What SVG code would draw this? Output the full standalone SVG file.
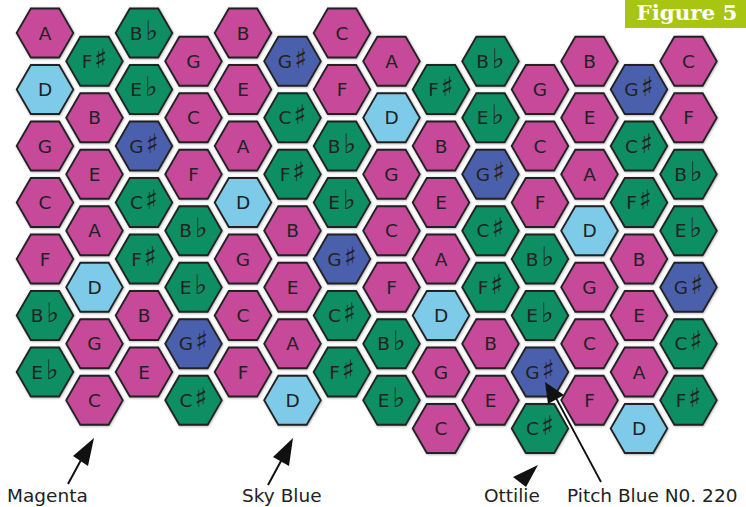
<svg xmlns="http://www.w3.org/2000/svg" xmlns:xlink="http://www.w3.org/1999/xlink" width="746" height="507" viewBox="0 0 746 507">
<style>
.hx use{stroke:#222;stroke-width:1.8;filter:url(#sh)}
.m use{fill:#c6489a}
.g use{fill:#0b8e64}
.b use{fill:#4b60ad}
.s use{fill:#7dcbe9}
.hx text{font-family:"DejaVu Sans",sans-serif;font-size:18.5px;fill:#222;text-anchor:middle}
.hx tspan{font-size:27px}
.lbl{font-family:"DejaVu Sans",sans-serif;font-size:18.5px;fill:#222}
</style>
<defs>
<filter id="sh" x="-20%" y="-20%" width="140%" height="140%"><feDropShadow dx="0.6" dy="0.6" stdDeviation="1.3" flood-color="#000" flood-opacity="0.35"/></filter>
<polygon id="hex" points="-28.3,0 -14.15,-24.5 14.15,-24.5 28.3,0 14.15,24.5 -14.15,24.5"/>
</defs>
<rect width="746" height="507" fill="#fff"/>
<g id="nodes">
<!-- col 0 x=45 -->
<g id="c0r0" class="hx m"><use href="#hex" x="45" y="33"/><text x="45" y="39.5">A</text></g>
<g id="c0r1" class="hx s"><use href="#hex" x="45" y="89.5"/><text x="45" y="96">D</text></g>
<g id="c0r2" class="hx m"><use href="#hex" x="45" y="146"/><text x="45" y="152.5">G</text></g>
<g id="c0r3" class="hx m"><use href="#hex" x="45" y="202.5"/><text x="45" y="209">C</text></g>
<g id="c0r4" class="hx m"><use href="#hex" x="45" y="259"/><text x="45" y="265.5">F</text></g>
<g id="c0r5" class="hx g"><use href="#hex" x="45" y="315.5"/><text x="45" y="322">B<tspan dx="3">♭</tspan></text></g>
<g id="c0r6" class="hx g"><use href="#hex" x="45" y="372"/><text x="45" y="378.5">E<tspan dx="3">♭</tspan></text></g>
<!-- col 1 x=94.5 -->
<g id="c1r0" class="hx g"><use href="#hex" x="94.5" y="61.25"/><text x="94.5" y="67.75">F<tspan dx="2">♯</tspan></text></g>
<g id="c1r1" class="hx m"><use href="#hex" x="94.5" y="117.75"/><text x="94.5" y="124.25">B</text></g>
<g id="c1r2" class="hx m"><use href="#hex" x="94.5" y="174.25"/><text x="94.5" y="180.75">E</text></g>
<g id="c1r3" class="hx m"><use href="#hex" x="94.5" y="230.75"/><text x="94.5" y="237.25">A</text></g>
<g id="c1r4" class="hx s"><use href="#hex" x="94.5" y="287.25"/><text x="94.5" y="293.75">D</text></g>
<g id="c1r5" class="hx m"><use href="#hex" x="94.5" y="343.75"/><text x="94.5" y="350.25">G</text></g>
<g id="c1r6" class="hx m"><use href="#hex" x="94.5" y="400.25"/><text x="94.5" y="406.75">C</text></g>
<!-- col 2 x=144 -->
<g id="c2r0" class="hx g"><use href="#hex" x="144" y="33"/><text x="144" y="39.5">B<tspan dx="3">♭</tspan></text></g>
<g id="c2r1" class="hx g"><use href="#hex" x="144" y="89.5"/><text x="144" y="96">E<tspan dx="3">♭</tspan></text></g>
<g id="c2r2" class="hx b"><use href="#hex" x="144" y="146"/><text x="144" y="152.5">G<tspan dx="2">♯</tspan></text></g>
<g id="c2r3" class="hx g"><use href="#hex" x="144" y="202.5"/><text x="144" y="209">C<tspan dx="2">♯</tspan></text></g>
<g id="c2r4" class="hx g"><use href="#hex" x="144" y="259"/><text x="144" y="265.5">F<tspan dx="2">♯</tspan></text></g>
<g id="c2r5" class="hx m"><use href="#hex" x="144" y="315.5"/><text x="144" y="322">B</text></g>
<g id="c2r6" class="hx m"><use href="#hex" x="144" y="372"/><text x="144" y="378.5">E</text></g>
<!-- col 3 x=193.5 -->
<g id="c3r0" class="hx m"><use href="#hex" x="193.5" y="61.25"/><text x="193.5" y="67.75">G</text></g>
<g id="c3r1" class="hx m"><use href="#hex" x="193.5" y="117.75"/><text x="193.5" y="124.25">C</text></g>
<g id="c3r2" class="hx m"><use href="#hex" x="193.5" y="174.25"/><text x="193.5" y="180.75">F</text></g>
<g id="c3r3" class="hx g"><use href="#hex" x="193.5" y="230.75"/><text x="193.5" y="237.25">B<tspan dx="3">♭</tspan></text></g>
<g id="c3r4" class="hx g"><use href="#hex" x="193.5" y="287.25"/><text x="193.5" y="293.75">E<tspan dx="3">♭</tspan></text></g>
<g id="c3r5" class="hx b"><use href="#hex" x="193.5" y="343.75"/><text x="193.5" y="350.25">G<tspan dx="2">♯</tspan></text></g>
<g id="c3r6" class="hx g"><use href="#hex" x="193.5" y="400.25"/><text x="193.5" y="406.75">C<tspan dx="2">♯</tspan></text></g>
<!-- col 4 x=243 -->
<g id="c4r0" class="hx m"><use href="#hex" x="243" y="33"/><text x="243" y="39.5">B</text></g>
<g id="c4r1" class="hx m"><use href="#hex" x="243" y="89.5"/><text x="243" y="96">E</text></g>
<g id="c4r2" class="hx m"><use href="#hex" x="243" y="146"/><text x="243" y="152.5">A</text></g>
<g id="c4r3" class="hx s"><use href="#hex" x="243" y="202.5"/><text x="243" y="209">D</text></g>
<g id="c4r4" class="hx m"><use href="#hex" x="243" y="259"/><text x="243" y="265.5">G</text></g>
<g id="c4r5" class="hx m"><use href="#hex" x="243" y="315.5"/><text x="243" y="322">C</text></g>
<g id="c4r6" class="hx m"><use href="#hex" x="243" y="372"/><text x="243" y="378.5">F</text></g>
<!-- col 5 x=292.5 -->
<g id="c5r0" class="hx b"><use href="#hex" x="292.5" y="61.25"/><text x="292.5" y="67.75">G<tspan dx="2">♯</tspan></text></g>
<g id="c5r1" class="hx g"><use href="#hex" x="292.5" y="117.75"/><text x="292.5" y="124.25">C<tspan dx="2">♯</tspan></text></g>
<g id="c5r2" class="hx g"><use href="#hex" x="292.5" y="174.25"/><text x="292.5" y="180.75">F<tspan dx="2">♯</tspan></text></g>
<g id="c5r3" class="hx m"><use href="#hex" x="292.5" y="230.75"/><text x="292.5" y="237.25">B</text></g>
<g id="c5r4" class="hx m"><use href="#hex" x="292.5" y="287.25"/><text x="292.5" y="293.75">E</text></g>
<g id="c5r5" class="hx m"><use href="#hex" x="292.5" y="343.75"/><text x="292.5" y="350.25">A</text></g>
<g id="c5r6" class="hx s"><use href="#hex" x="292.5" y="400.25"/><text x="292.5" y="406.75">D</text></g>
<!-- col 6 x=342 -->
<g id="c6r0" class="hx m"><use href="#hex" x="342" y="33"/><text x="342" y="39.5">C</text></g>
<g id="c6r1" class="hx m"><use href="#hex" x="342" y="89.5"/><text x="342" y="96">F</text></g>
<g id="c6r2" class="hx g"><use href="#hex" x="342" y="146"/><text x="342" y="152.5">B<tspan dx="3">♭</tspan></text></g>
<g id="c6r3" class="hx g"><use href="#hex" x="342" y="202.5"/><text x="342" y="209">E<tspan dx="3">♭</tspan></text></g>
<g id="c6r4" class="hx b"><use href="#hex" x="342" y="259"/><text x="342" y="265.5">G<tspan dx="2">♯</tspan></text></g>
<g id="c6r5" class="hx g"><use href="#hex" x="342" y="315.5"/><text x="342" y="322">C<tspan dx="2">♯</tspan></text></g>
<g id="c6r6" class="hx g"><use href="#hex" x="342" y="372"/><text x="342" y="378.5">F<tspan dx="2">♯</tspan></text></g>
<!-- col 7 x=391.5 -->
<g id="c7r0" class="hx m"><use href="#hex" x="391.5" y="61.25"/><text x="391.5" y="67.75">A</text></g>
<g id="c7r1" class="hx s"><use href="#hex" x="391.5" y="117.75"/><text x="391.5" y="124.25">D</text></g>
<g id="c7r2" class="hx m"><use href="#hex" x="391.5" y="174.25"/><text x="391.5" y="180.75">G</text></g>
<g id="c7r3" class="hx m"><use href="#hex" x="391.5" y="230.75"/><text x="391.5" y="237.25">C</text></g>
<g id="c7r4" class="hx m"><use href="#hex" x="391.5" y="287.25"/><text x="391.5" y="293.75">F</text></g>
<g id="c7r5" class="hx g"><use href="#hex" x="391.5" y="343.75"/><text x="391.5" y="350.25">B<tspan dx="3">♭</tspan></text></g>
<g id="c7r6" class="hx g"><use href="#hex" x="391.5" y="400.25"/><text x="391.5" y="406.75">E<tspan dx="3">♭</tspan></text></g>
<!-- col 8 x=441 -->
<g id="c8r0" class="hx g"><use href="#hex" x="441" y="89.5"/><text x="441" y="96">F<tspan dx="2">♯</tspan></text></g>
<g id="c8r1" class="hx m"><use href="#hex" x="441" y="146"/><text x="441" y="152.5">B</text></g>
<g id="c8r2" class="hx m"><use href="#hex" x="441" y="202.5"/><text x="441" y="209">E</text></g>
<g id="c8r3" class="hx m"><use href="#hex" x="441" y="259"/><text x="441" y="265.5">A</text></g>
<g id="c8r4" class="hx s"><use href="#hex" x="441" y="315.5"/><text x="441" y="322">D</text></g>
<g id="c8r5" class="hx m"><use href="#hex" x="441" y="372"/><text x="441" y="378.5">G</text></g>
<g id="c8r6" class="hx m"><use href="#hex" x="441" y="428.5"/><text x="441" y="435">C</text></g>
<!-- col 9 x=490.5 -->
<g id="c9r0" class="hx g"><use href="#hex" x="490.5" y="61.25"/><text x="490.5" y="67.75">B<tspan dx="3">♭</tspan></text></g>
<g id="c9r1" class="hx g"><use href="#hex" x="490.5" y="117.75"/><text x="490.5" y="124.25">E<tspan dx="3">♭</tspan></text></g>
<g id="c9r2" class="hx b"><use href="#hex" x="490.5" y="174.25"/><text x="490.5" y="180.75">G<tspan dx="2">♯</tspan></text></g>
<g id="c9r3" class="hx g"><use href="#hex" x="490.5" y="230.75"/><text x="490.5" y="237.25">C<tspan dx="2">♯</tspan></text></g>
<g id="c9r4" class="hx g"><use href="#hex" x="490.5" y="287.25"/><text x="490.5" y="293.75">F<tspan dx="2">♯</tspan></text></g>
<g id="c9r5" class="hx m"><use href="#hex" x="490.5" y="343.75"/><text x="490.5" y="350.25">B</text></g>
<g id="c9r6" class="hx m"><use href="#hex" x="490.5" y="400.25"/><text x="490.5" y="406.75">E</text></g>
<!-- col 10 x=540 -->
<g id="c10r0" class="hx m"><use href="#hex" x="540" y="89.5"/><text x="540" y="96">G</text></g>
<g id="c10r1" class="hx m"><use href="#hex" x="540" y="146"/><text x="540" y="152.5">C</text></g>
<g id="c10r2" class="hx m"><use href="#hex" x="540" y="202.5"/><text x="540" y="209">F</text></g>
<g id="c10r3" class="hx g"><use href="#hex" x="540" y="259"/><text x="540" y="265.5">B<tspan dx="3">♭</tspan></text></g>
<g id="c10r4" class="hx g"><use href="#hex" x="540" y="315.5"/><text x="540" y="322">E<tspan dx="3">♭</tspan></text></g>
<g id="c10r5" class="hx b"><use href="#hex" x="540" y="372"/><text x="540" y="378.5">G<tspan dx="2">♯</tspan></text></g>
<g id="c10r6" class="hx g"><use href="#hex" x="540" y="428.5"/><text x="540" y="435">C<tspan dx="2">♯</tspan></text></g>
<!-- col 11 x=589.5 -->
<g id="c11r0" class="hx m"><use href="#hex" x="589.5" y="61.25"/><text x="589.5" y="67.75">B</text></g>
<g id="c11r1" class="hx m"><use href="#hex" x="589.5" y="117.75"/><text x="589.5" y="124.25">E</text></g>
<g id="c11r2" class="hx m"><use href="#hex" x="589.5" y="174.25"/><text x="589.5" y="180.75">A</text></g>
<g id="c11r3" class="hx s"><use href="#hex" x="589.5" y="230.75"/><text x="589.5" y="237.25">D</text></g>
<g id="c11r4" class="hx m"><use href="#hex" x="589.5" y="287.25"/><text x="589.5" y="293.75">G</text></g>
<g id="c11r5" class="hx m"><use href="#hex" x="589.5" y="343.75"/><text x="589.5" y="350.25">C</text></g>
<g id="c11r6" class="hx m"><use href="#hex" x="589.5" y="400.25"/><text x="589.5" y="406.75">F</text></g>
<!-- col 12 x=639 -->
<g id="c12r0" class="hx b"><use href="#hex" x="639" y="89.5"/><text x="639" y="96">G<tspan dx="2">♯</tspan></text></g>
<g id="c12r1" class="hx g"><use href="#hex" x="639" y="146"/><text x="639" y="152.5">C<tspan dx="2">♯</tspan></text></g>
<g id="c12r2" class="hx g"><use href="#hex" x="639" y="202.5"/><text x="639" y="209">F<tspan dx="2">♯</tspan></text></g>
<g id="c12r3" class="hx m"><use href="#hex" x="639" y="259"/><text x="639" y="265.5">B</text></g>
<g id="c12r4" class="hx m"><use href="#hex" x="639" y="315.5"/><text x="639" y="322">E</text></g>
<g id="c12r5" class="hx m"><use href="#hex" x="639" y="372"/><text x="639" y="378.5">A</text></g>
<g id="c12r6" class="hx s"><use href="#hex" x="639" y="428.5"/><text x="639" y="435">D</text></g>
<!-- col 13 x=688.5 -->
<g id="c13r0" class="hx m"><use href="#hex" x="688.5" y="61.25"/><text x="688.5" y="67.75">C</text></g>
<g id="c13r1" class="hx m"><use href="#hex" x="688.5" y="117.75"/><text x="688.5" y="124.25">F</text></g>
<g id="c13r2" class="hx g"><use href="#hex" x="688.5" y="174.25"/><text x="688.5" y="180.75">B<tspan dx="3">♭</tspan></text></g>
<g id="c13r3" class="hx g"><use href="#hex" x="688.5" y="230.75"/><text x="688.5" y="237.25">E<tspan dx="3">♭</tspan></text></g>
<g id="c13r4" class="hx b"><use href="#hex" x="688.5" y="287.25"/><text x="688.5" y="293.75">G<tspan dx="2">♯</tspan></text></g>
<g id="c13r5" class="hx g"><use href="#hex" x="688.5" y="343.75"/><text x="688.5" y="350.25">C<tspan dx="2">♯</tspan></text></g>
<g id="c13r6" class="hx g"><use href="#hex" x="688.5" y="400.25"/><text x="688.5" y="406.75">F<tspan dx="2">♯</tspan></text></g>
</g>
<g id="connectors">
<line x1="68" y1="484" x2="81" y2="460" stroke="#111" stroke-width="2"/>
<polygon points="94,438 73,456 88,466" fill="#111"/>
<line x1="268" y1="485" x2="281" y2="461" stroke="#111" stroke-width="2"/>
<polygon points="293,438 273,457 289,466" fill="#111"/>
<polygon points="538,465 513,477 526,487" fill="#111"/>
<line x1="601" y1="482" x2="556" y2="398" stroke="#fff" stroke-width="5"/>
<line x1="601" y1="482" x2="556" y2="398" stroke="#111" stroke-width="1.8"/>
<polygon points="545,382 548,404 564,395" fill="#111"/>
</g>
<g id="labels">
<text class="lbl" x="7" y="502">Magenta</text>
<text class="lbl" x="242" y="502">Sky Blue</text>
<text class="lbl" x="484" y="502">Ottilie</text>
<text class="lbl" x="567" y="502">Pitch Blue N0. 220</text>
</g>
<g id="figure-label">
<rect x="625" y="0" width="121" height="28" fill="#a8c512"/>
<text x="687" y="20" font-family="'DejaVu Serif',serif" font-weight="bold" font-size="21" fill="#fff" text-anchor="middle" textLength="101" lengthAdjust="spacingAndGlyphs">Figure 5</text>
</g>
</svg>
